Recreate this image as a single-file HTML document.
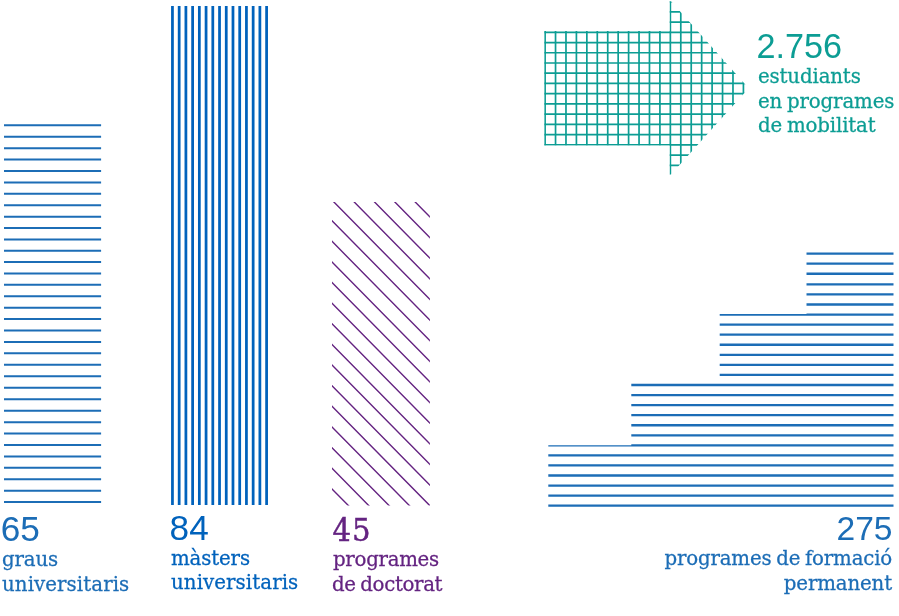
<!DOCTYPE html>
<html lang="ca"><head><meta charset="utf-8"><title>Xifres</title>
<style>
html,body{margin:0;padding:0;background:#fff}
body{width:899px;height:616px;position:relative;overflow:hidden}
svg{position:absolute;left:0;top:0}
.t{position:absolute;white-space:nowrap;line-height:1;margin:0}
.n{font-family:"Liberation Sans",sans-serif;font-size:35.2px}
.s{font-family:"DejaVu Serif","Liberation Serif",serif;font-size:19.8px;letter-spacing:-0.15px;word-spacing:-1.3px;-webkit-text-stroke:0.26px currentColor}
.b1{color:#1c6db6}.b2{color:#0062bc}.p{color:#642381}.g{color:#0c9d94}
.r{text-align:right}
</style></head><body>
<svg width="899" height="616" viewBox="0 0 899 616">
<path d="M4 125.3H101.1M4 136.72H101.1M4 148.13H101.1M4 159.55H101.1M4 170.97H101.1M4 182.38H101.1M4 193.8H101.1M4 205.22H101.1M4 216.63H101.1M4 228.05H101.1M4 239.47H101.1M4 250.73H101.1M4 262H101.1M4 273.42H101.1M4 284.83H101.1M4 296.25H101.1M4 307.67H101.1M4 319.08H101.1M4 330.5H101.1M4 341.92H101.1M4 353.33H101.1M4 364.75H101.1M4 376.17H101.1M4 387.73H101.1M4 399.15H101.1M4 410.72H101.1M4 422.13H101.1M4 433.55H101.1M4 444.97H101.1M4 456.38H101.1M4 467.8H101.1M4 479.22H101.1M4 490.63H101.1M4 502.05H101.1" stroke="#1c6db6" stroke-width="2" fill="none"/>
<path d="M172.45 5.9V505M179.17 5.9V505M185.9 5.9V505M192.62 5.9V505M199.35 5.9V505M206.07 5.9V505M212.8 5.9V505M219.53 5.9V505M226.25 5.9V505M232.98 5.9V505M239.7 5.9V505M246.43 5.9V505M253.15 5.9V505M259.88 5.9V505M266.6 5.9V505" stroke="#0062bc" stroke-width="2.75" fill="none"/>
<clipPath id="c3"><rect x="332" y="202.1" width="97.9" height="303.5"/></clipPath>
<path clip-path="url(#c3)" d="M320 64.11L440 185.91M320 84.74L440 206.54M320 105.37L440 227.17M320 126L440 247.8M320 146.63L440 268.43M320 167.26L440 289.06M320 187.89L440 309.69M320 208.52L440 330.32M320 229.15L440 350.95M320 249.78L440 371.58M320 270.41L440 392.21M320 291.04L440 412.84M320 311.67L440 433.47M320 332.3L440 454.1M320 352.93L440 474.73M320 373.56L440 495.36M320 394.19L440 515.99M320 414.82L440 536.62M320 435.45L440 557.25M320 456.08L440 577.88M320 476.71L440 598.51M320 497.34L440 619.14" stroke="#642381" stroke-width="1.4" fill="none"/>
<clipPath id="c4"><path d="M544.2 31H669.6V1.2H671L748.7 88.3L671 174.4H669.6V145.4H544.2Z"/></clipPath>
<path clip-path="url(#c4)" d="M545.1 0V180M555.54 0V180M565.98 0V180M576.41 0V180M586.85 0V180M597.29 0V180M607.73 0V180M618.17 0V180M628.6 0V180M639.04 0V180M649.48 0V180M659.92 0V180M670.36 0V180M680.79 0V180M691.23 0V180M701.67 0V180M712.11 0V180M722.55 0V180M732.98 0V180M743.42 0V180M753.86 0V180M540 1.61H750M540 11.84H750M540 22.07H750M540 32.3H750M540 42.53H750M540 52.76H750M540 62.99H750M540 73.22H750M540 83.45H750M540 93.68H750M540 103.91H750M540 114.14H750M540 124.37H750M540 134.6H750M540 144.83H750M540 155.06H750M540 165.29H750M540 175.52H750" stroke="#0c9d94" stroke-width="1.7" fill="none"/>
<clipPath id="c5"><path d="M806.5 248H893.5V512H548.3V445.2H631.3V380H719.7V314H806.5Z"/></clipPath>
<path clip-path="url(#c5)" d="M540 253.65H899M540 263.7H899M540 273.75H899M540 284.4H899M540 294.46H899M540 304.52H899M540 314.58H899M540 324.64H899M540 334.7H899M540 344.75H899M540 354.81H899M540 364.87H899M540 374.93H899M540 384.99H899M540 395.05H899M540 405.11H899M540 415.17H899M540 425.23H899M540 435.29H899M540 445.35H899M540 455.4H899M540 465.46H899M540 475.52H899M540 485.58H899M540 495.64H899M540 505.7H899" stroke="#1c6db6" stroke-width="2.3" fill="none"/>
</svg>
<div class="t n b1" id="n1" style="left:0.8px;top:511.4px">65</div>
<div class="t s b1" id="l1a" style="left:2px;top:550px">graus</div>
<div class="t s b1" id="l1b" style="letter-spacing:0.08px;left:2px;top:575px">universitaris</div>

<div class="t n b2" id="n2" style="left:169.6px;top:510px">84</div>
<div class="t s b2" id="l2a" style="left:171px;top:549px">màsters</div>
<div class="t s b2" id="l2b" style="letter-spacing:0.08px;left:171px;top:573px">universitaris</div>

<div class="t s p" id="n3" style="left:332.6px;top:514.3px;font-size:32.4px;font-family:'DejaVu Serif Condensed','DejaVu Serif',serif;letter-spacing:0.9px;-webkit-text-stroke:0.45px currentColor">45</div>
<div class="t s p" id="l3a" style="letter-spacing:-0.3px;left:333px;top:550px">programes</div>
<div class="t s p" id="l3b" style="letter-spacing:-0.35px;left:332px;top:575px">de doctorat</div>

<div class="t n g" id="n4" style="left:756.4px;top:28.8px;font-size:34.2px">2.756</div>
<div class="t s g" id="l4a" style="left:758px;top:67px">estudiants</div>
<div class="t s g" id="l4b" style="left:758px;top:92px">en programes</div>
<div class="t s g" id="l4c" style="left:758px;top:116px">de mobilitat</div>

<div class="t n b1 r" id="n5" style="right:6.5px;top:511.6px;font-size:33.6px">275</div>
<div class="t s b1 r" id="l5a" style="letter-spacing:-0.19px;right:7px;top:549px">programes de formació</div>
<div class="t s b1 r" id="l5b" style="right:7px;top:574px">permanent</div>
</body></html>
